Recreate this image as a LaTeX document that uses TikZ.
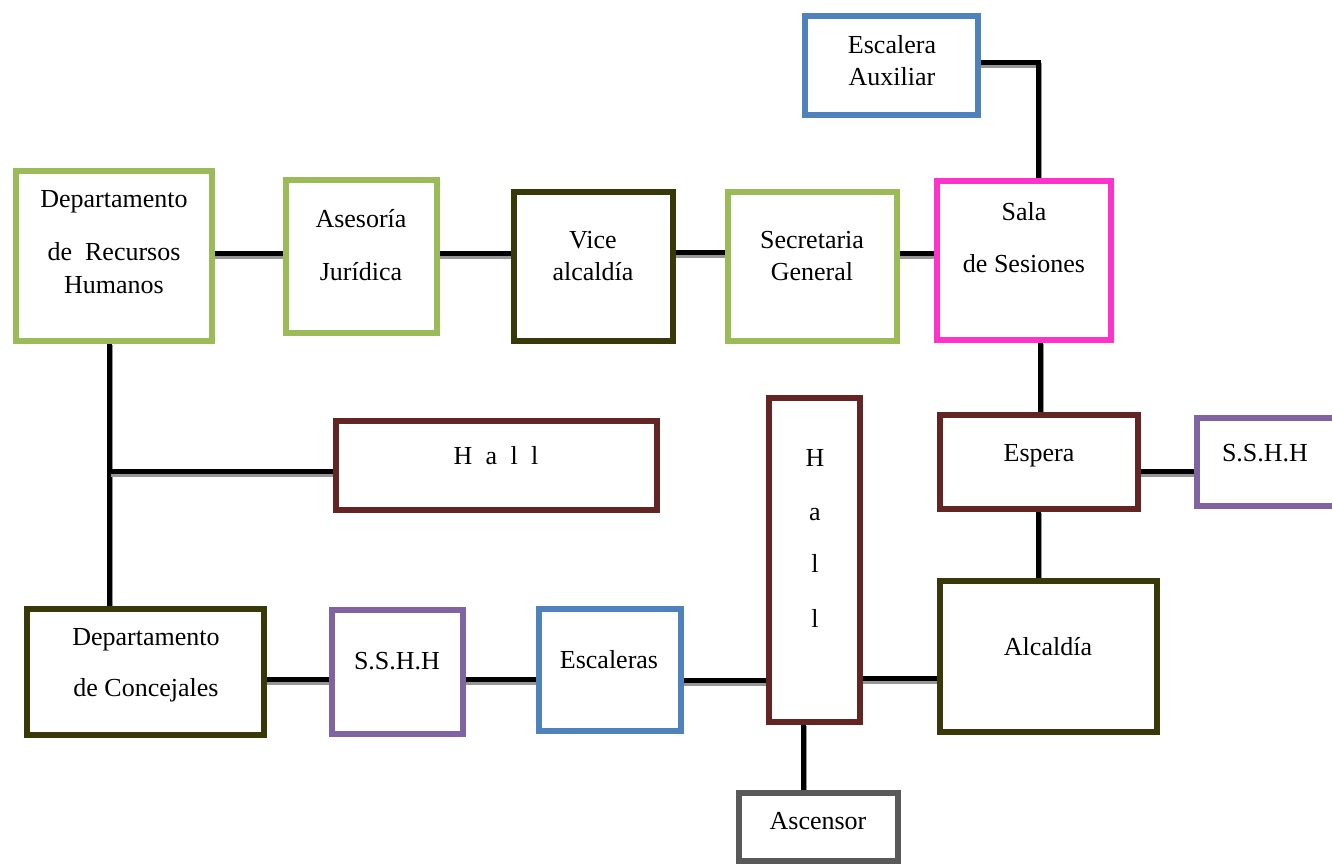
\documentclass[tikz,border=0pt]{standalone}
\usepackage{fontspec}
\setmainfont{Liberation Serif}
\usetikzlibrary{fit,backgrounds}
\definecolor{cgreen}{RGB}{155,187,89}
\definecolor{colive}{RGB}{56,56,8}
\definecolor{cmag}{RGB}{255,51,204}
\definecolor{cblue}{RGB}{79,129,189}
\definecolor{cbrown}{RGB}{99,37,35}
\definecolor{cpurple}{RGB}{128,100,162}
\definecolor{cgray}{RGB}{89,89,89}
\definecolor{cshadow}{RGB}{150,150,150}
\begin{document}
\begin{tikzpicture}[x=0.75pt,y=-0.75pt,
 box/.style={draw=#1, line width=4pt, fill=white, inner sep=0pt, outer sep=0pt, rectangle},
 lbl/.style={anchor=base, font=\fontsize{19.5pt}{23pt}\selectfont, inner sep=0pt},
 conn/.style={line width=3.75pt, black, preaction={draw=cshadow, line width=3.2pt, transform canvas={shift={(2,3.5)}}}}]
\useasboundingbox (0,0) rectangle (1332,865);
% boxes
\node[box=cgreen, fit={(16,171) (212,341)}] (rrhh) {};
\node[box=cgreen, fit={(286,180) (437,333)}] (ases) {};
\node[box=colive, fit={(514,192) (673,341)}] (vice) {};
\node[box=cgreen, fit={(728,192) (897,341)}] (secr) {};
\node[box=cmag, fit={(937,181) (1111,340)}] (sala) {};
\node[box=cblue, fit={(805,16) (978,115)}] (escaux) {};
\node[box=cbrown, fit={(336,421) (657,510)}] (hallh) {};
\node[box=cbrown, fit={(769,398) (860,722)}] (hallv) {};
\node[box=cbrown, fit={(940,415) (1138,509)}] (espera) {};
\node[box=cpurple, fit={(1197,418) (1338,506)}] (sshhr) {};
\node[box=colive, fit={(940,581) (1157,732)}] (alc) {};
\node[box=colive, fit={(27,609) (264,735)}] (conc) {};
\node[box=cpurple, fit={(332,610) (463,734)}] (sshhb) {};
\node[box=cblue, fit={(539,609) (681,731)}] (escal) {};
\node[box=cgray, fit={(739,793) (898,861)}] (asc) {};
% labels
\node[lbl] (t1) at (114,207) {Departamento};
\node[lbl] (t2) at (114,260) {de\ \ Recursos};
\node[lbl] (t3) at (114,293) {Humanos};
\node[lbl] (t4) at (361,227) {Asesoría};
\node[lbl] (t5) at (361,280) {Jurídica};
\node[lbl] (t6) at (593,248) {Vice};
\node[lbl] (t7) at (593,280) {alcaldía};
\node[lbl] (t8) at (812,248) {Secretaria};
\node[lbl] (t9) at (812,280) {General};
\node[lbl] (t10) at (1024,220) {Sala};
\node[lbl] (t11) at (1024,272) {de Sesiones};
\node[lbl] (t12) at (892,53) {Escalera};
\node[lbl] (t13) at (892,85) {Auxiliar};
\node[lbl] (t14) at (496,464) {H\hspace{10pt}a\hspace{10pt}l\hspace{10pt}l};
\node[lbl] (t15) at (815,466) {H};
\node[lbl] (t16) at (815,520) {a};
\node[lbl] (t17) at (815,572) {l};
\node[lbl] (t18) at (815,627) {l};
\node[lbl] (t19) at (1039,461) {Espera};
\node[lbl] (t20) at (1265,461) {S.S.H.H};
\node[lbl] (t21) at (1048,655) {Alcaldía};
\node[lbl] (t22) at (146,645) {Departamento};
\node[lbl] (t23) at (146,696) {de Concejales};
\node[lbl] (t24) at (397,669) {S.S.H.H};
\node[lbl] (t25) at (609,668) {Escaleras};
\node[lbl] (t26) at (818,829) {Ascensor};
\coordinate (branch) at (109,471);
% connectors
\begin{scope}[on background layer]
\draw[conn] (rrhh.east |- 0,253) -- (ases.west |- 0,253);
\draw[conn] (ases.east |- 0,253) -- (vice.west |- 0,253);
\draw[conn] (vice.east |- 0,252) -- (secr.west |- 0,252);
\draw[conn] (secr.east |- 0,253) -- (sala.west |- 0,253);
\draw[conn] (escaux.east |- 0,62) -| (sala.north -| 1038,0);
\draw[conn] (sala.south -| 1040,0) -- (espera.north -| 1040,0);
\draw[conn] (espera.east |- 0,471) -- (sshhr.west |- 0,471);
\draw[conn] (espera.south -| 1038,0) -- (alc.north -| 1038,0);
\draw[conn] (rrhh.south -| branch) -- (conc.north -| branch);
\draw[conn] (branch) -- (hallh.west |- branch);
\draw[conn] (conc.east |- 0,679) -- (sshhb.west |- 0,679);
\draw[conn] (sshhb.east |- 0,679) -- (escal.west |- 0,679);
\draw[conn] (escal.east |- 0,680) -- (hallv.west |- 0,680);
\draw[conn] (hallv.east |- 0,678) -- (alc.west |- 0,678);
\draw[conn] (hallv.south -| 803,0) -- (asc.north -| 803,0);
\end{scope}
\end{tikzpicture}
\end{document}
